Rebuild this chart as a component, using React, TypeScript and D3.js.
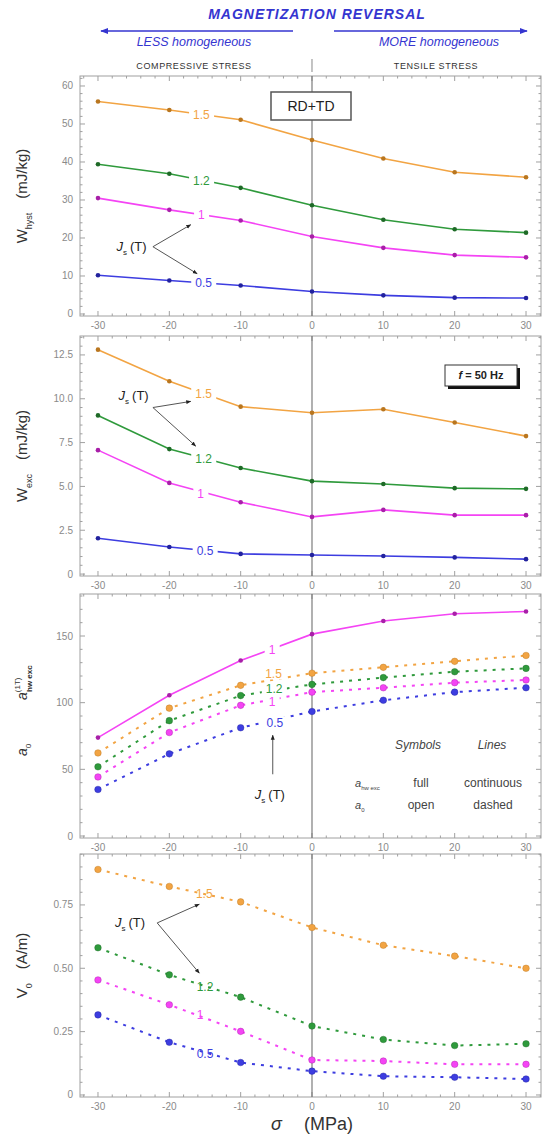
import { useRef, useEffect } from "react";
import * as d3 from "d3";

// stress values (MPa) and J_s levels (T)
const stress = [-30, -20, -10, 0, 10, 20, 30];
const levels = ["1.5", "1.2", "1", "0.5"];
const lineColors = ["#f2a443", "#2f9a3c", "#f444f4", "#3d3de0"];
const dotColors = ["#b9761f", "#1e6a27", "#a81fa8", "#22229e"];

// W_hyst (mJ/kg)
const wHyst15 = [55.9, 53.7, 51.1, 45.8, 40.9, 37.3, 36.0];
const wHyst12 = [39.4, 36.9, 33.2, 28.6, 24.8, 22.3, 21.4];
const wHyst10 = [30.5, 27.4, 24.6, 20.4, 17.4, 15.5, 14.9];
const wHyst05 = [10.2, 8.8, 7.5, 5.9, 4.9, 4.3, 4.2];

// W_exc (mJ/kg)
const wExc15 = [12.8, 11.0, 9.55, 9.2, 9.4, 8.65, 7.87];
const wExc12 = [9.05, 7.13, 6.05, 5.3, 5.14, 4.9, 4.86];
const wExc10 = [7.07, 5.2, 4.1, 3.26, 3.66, 3.36, 3.36];
const wExc05 = [2.04, 1.54, 1.15, 1.09, 1.03, 0.95, 0.85];

// a_hw,exc at 1 T (full symbols, continuous line)
const aHwExc10 = [73.8, 105.6, 131.6, 151.4, 161.3, 166.7, 168.4];
// a_0 (open symbols, dashed lines)
const a015 = [62.3, 95.9, 113, 122.1, 126.5, 131, 135.4];
const a012 = [51.9, 86.5, 105.3, 113.7, 118.8, 123.2, 125.7];
const a010 = [44.3, 77.6, 98, 107.9, 111.2, 115, 117];
const a005 = [34.9, 61.6, 81.2, 93.4, 101.8, 107.9, 111.2];

// V_0 (A/m)
const v015 = [0.89, 0.823, 0.762, 0.661, 0.591, 0.548, 0.5];
const v012 = [0.581, 0.474, 0.386, 0.272, 0.219, 0.195, 0.202];
const v010 = [0.454, 0.356, 0.251, 0.138, 0.134, 0.121, 0.121];
const v005 = [0.316, 0.208, 0.128, 0.094, 0.074, 0.07, 0.063];

// tick labels
const xTicks = [-30, -20, -10, 0, 10, 20, 30];
const wHystTicks = [0, 10, 20, 30, 40, 50, 60];
const wExcTicks = [0, 2.5, 5, 7.5, 10, 12.5];
const aTicks = [0, 50, 100, 150];
const vTicks = [0, 0.25, 0.5, 0.75];

// in-line level labels: [x, y] in data units, same order as levels
const wHystLabelPos = [[-15.5, 52.4], [-15.5, 35.1], [-15.5, 26.0], [-15.2, 8.2]];
const wExcLabelPos = [[-15.2, 10.3], [-15.2, 6.6], [-15.6, 4.6], [-15.0, 1.35]];
const aLabelPos = [[-5.4, 122], [-5.3, 110.4], [-5.6, 101], [-5.2, 85]];
const aHwLabelPos = [-5.6, 139.4];
const vLabelPos = [[-15.1, 0.793], [-15.0, 0.427], [-15.7, 0.316], [-15.0, 0.161]];

const FONT = "'Liberation Sans', Arial, sans-serif";

const App = () => {
  const svgRef = useRef(null);

  useEffect(() => {
    const svg = d3.select(svgRef.current);
    svg.selectAll("*").remove();

    const W = 543;
    const frameL = 80;
    const frameR = 541;
    const x = d3.scaleLinear().domain([-32.52, 32.1]).range([frameL, frameR]);

    const defs = svg.append("defs");
    const mkArrow = (id, color) =>
      defs
        .append("marker")
        .attr("id", id)
        .attr("viewBox", "0 0 10 10")
        .attr("refX", 9)
        .attr("refY", 5)
        .attr("markerWidth", 5)
        .attr("markerHeight", 5)
        .attr("orient", "auto-start-reverse")
        .append("path")
        .attr("d", "M0,1 L10,5 L0,9 z")
        .attr("fill", color);
    mkArrow("arrK", "#222");
    mkArrow("arrB", "#3535d0");

    // ---------- header ----------
    const blue = "#3535d0";
    svg.append("text")
      .attr("x", 317).attr("y", 19)
      .attr("text-anchor", "middle")
      .style("font-family", FONT).style("font-size", "14px")
      .style("font-weight", "bold").style("font-style", "italic")
      .style("letter-spacing", "1px")
      .attr("fill", blue)
      .text("MAGNETIZATION REVERSAL");

    svg.append("line")
      .attr("x1", 293).attr("x2", 101).attr("y1", 31).attr("y2", 31)
      .attr("stroke", blue).attr("stroke-width", 1.6)
      .attr("marker-end", "url(#arrB)");
    svg.append("line")
      .attr("x1", 334).attr("x2", 527).attr("y1", 31).attr("y2", 31)
      .attr("stroke", blue).attr("stroke-width", 1.6)
      .attr("marker-end", "url(#arrB)");

    [["LESS homogeneous", 194], ["MORE homogeneous", 439]].forEach(([t, cx]) => {
      svg.append("text")
        .attr("x", cx).attr("y", 46)
        .attr("text-anchor", "middle")
        .style("font-family", FONT).style("font-size", "12.5px")
        .style("font-style", "italic")
        .attr("fill", blue)
        .text(t);
    });

    [["COMPRESSIVE STRESS", 194], ["TENSILE STRESS", 436]].forEach(([t, cx]) => {
      svg.append("text")
        .attr("x", cx).attr("y", 69)
        .attr("text-anchor", "middle")
        .style("font-family", FONT).style("font-size", "9px")
        .style("letter-spacing", "0.6px")
        .attr("fill", "#333")
        .text(t);
    });
    svg.append("line")
      .attr("x1", x(0)).attr("x2", x(0)).attr("y1", 59).attr("y2", 72)
      .attr("stroke", "#888").attr("stroke-width", 1);

    // ---------- panels ----------
    const panels = [
      {
        top: 76, bottom: 316, domain: [-0.53, 62.63],
        ticks: wHystTicks, minor: 2, fmt: (d) => `${d}`,
        series: [wHyst15, wHyst12, wHyst10, wHyst05].map((v, i) => ({
          values: v, color: lineColors[i], dot: dotColors[i], dashed: false,
        })),
        labels: wHystLabelPos.map((p, i) => ({ x: p[0], y: p[1], text: levels[i], color: lineColors[i] })),
        js: { tx: -25.3, ty: 17.7, ox: -22.3, oy: 17.7, tips: [[-17.0, 23.5], [-16.1, 10.6]] },
      },
      {
        top: 336, bottom: 576, domain: [-0.11, 13.58],
        ticks: wExcTicks, minor: 0.5, fmt: (d) => (d === 0 ? "0" : d.toFixed(1)),
        series: [wExc15, wExc12, wExc10, wExc05].map((v, i) => ({
          values: v, color: lineColors[i], dot: dotColors[i], dashed: false,
        })),
        labels: wExcLabelPos.map((p, i) => ({ x: p[0], y: p[1], text: levels[i], color: lineColors[i] })),
        js: { tx: -25.0, ty: 10.2, ox: -22.3, oy: 9.5, tips: [[-17.0, 9.85], [-16.3, 7.3]] },
      },
      {
        top: 594, bottom: 838, domain: [-1.5, 181.5],
        ticks: aTicks, minor: 10, fmt: (d) => `${d}`,
        series: [
          { values: aHwExc10, color: lineColors[2], dot: dotColors[2], dashed: false },
          ...[a015, a012, a010, a005].map((v, i) => ({
            values: v, color: lineColors[i], dot: dotColors[i], dashed: true,
          })),
        ],
        labels: [
          { x: aHwLabelPos[0], y: aHwLabelPos[1], text: "1", color: lineColors[2] },
          ...aLabelPos.map((p, i) => ({ x: p[0], y: p[1], text: levels[i], color: lineColors[i] })),
        ],
        js: { tx: -5.9, ty: 31, vertical: true, ox: -5.5, oy: 46.3, tips: [[-5.5, 75.6]] },
      },
      {
        top: 854, bottom: 1097, domain: [-0.008, 0.951],
        ticks: vTicks, minor: 0.05, fmt: (d) => (d === 0 ? "0" : d.toFixed(2)),
        series: [v015, v012, v010, v005].map((v, i) => ({
          values: v, color: lineColors[i], dot: dotColors[i], dashed: true,
        })),
        labels: vLabelPos.map((p, i) => ({ x: p[0], y: p[1], text: levels[i], color: lineColors[i], bare: true })),
        js: { tx: -25.5, ty: 0.679, ox: -21.7, oy: 0.679, tips: [[-15.8, 0.753], [-15.8, 0.481]] },
      },
    ];

    const frameColor = "#a0a0a0";

    panels.forEach((p, pi) => {
      const y = d3.scaleLinear().domain(p.domain).range([p.bottom, p.top]);
      const g = svg.append("g");

      // frame
      g.append("rect")
        .attr("x", frameL).attr("y", p.top)
        .attr("width", frameR - frameL).attr("height", p.bottom - p.top)
        .attr("fill", "none").attr("stroke", frameColor).attr("stroke-width", 1);

      // x ticks (top & bottom, inward)
      const xMinor = d3.range(-32, 33, 2).filter((d) => d % 10 !== 0);
      [...xTicks.map((d) => [d, 5]), ...xMinor.map((d) => [d, 2.5])].forEach(([d, len]) => {
        const xx = x(d);
        g.append("line").attr("x1", xx).attr("x2", xx).attr("y1", p.bottom).attr("y2", p.bottom - len)
          .attr("stroke", frameColor);
        g.append("line").attr("x1", xx).attr("x2", xx).attr("y1", p.top).attr("y2", p.top + len)
          .attr("stroke", frameColor);
      });
      xTicks.forEach((d) => {
        g.append("text")
          .attr("x", x(d)).attr("y", p.bottom + 13)
          .attr("text-anchor", "middle")
          .style("font-family", FONT).style("font-size", "10px")
          .attr("fill", "#8a8a8a")
          .text(d);
      });

      // y ticks (left & right, inward)
      const maxV = p.domain[1];
      const yMinor = d3.range(0, maxV, p.minor)
        .filter((d) => !p.ticks.some((t) => Math.abs(t - d) < p.minor / 10));
      [...p.ticks.map((d) => [d, 5]), ...yMinor.map((d) => [d, 2.5])].forEach(([d, len]) => {
        const yy = y(d);
        g.append("line").attr("x1", frameL).attr("x2", frameL + len).attr("y1", yy).attr("y2", yy)
          .attr("stroke", frameColor);
        g.append("line").attr("x1", frameR).attr("x2", frameR - len).attr("y1", yy).attr("y2", yy)
          .attr("stroke", frameColor);
      });
      p.ticks.forEach((d) => {
        g.append("text")
          .attr("x", frameL - 7).attr("y", y(d))
          .attr("dy", "0.35em")
          .attr("text-anchor", "end")
          .style("font-family", FONT).style("font-size", "10px")
          .attr("fill", "#8a8a8a")
          .text(p.fmt(d));
      });

      // zero-stress line
      g.append("line")
        .attr("x1", x(0)).attr("x2", x(0)).attr("y1", p.top).attr("y2", p.bottom)
        .attr("stroke", "#707070").attr("stroke-width", 1.1);

      // series
      const line = d3.line()
        .x((d, i) => x(stress[i]))
        .y((d) => y(d));
      p.series.forEach((s) => {
        g.append("path")
          .datum(s.values)
          .attr("fill", "none")
          .attr("stroke", s.color)
          .attr("stroke-width", s.dashed ? 2 : 1.6)
          .attr("stroke-dasharray", s.dashed ? "3,6" : null)
          .attr("d", line);
      });
      p.series.forEach((s) => {
        g.selectAll(null)
          .data(s.values)
          .enter()
          .append("circle")
          .attr("cx", (d, i) => x(stress[i]))
          .attr("cy", (d) => y(d))
          .attr("r", s.dashed ? 3.3 : 2.3)
          .attr("fill", s.dashed ? s.color : s.dot)
          .attr("stroke", s.dashed ? s.dot : "none")
          .attr("stroke-opacity", 0.5)
          .attr("stroke-width", 0.8);
      });

      // level labels
      p.labels.forEach((l) => {
        const lg = g.append("g");
        const t = lg.append("text")
          .attr("x", x(l.x)).attr("y", y(l.y))
          .attr("dy", "0.35em")
          .attr("text-anchor", "middle")
          .style("font-family", FONT).style("font-size", "12px")
          .attr("fill", l.color)
          .text(l.text);
        if (!l.bare) {
          const bb = t.node().getBBox();
          lg.insert("rect", "text")
            .attr("x", bb.x - 4).attr("y", bb.y + 1)
            .attr("width", bb.width + 8).attr("height", bb.height - 2)
            .attr("fill", "#fff");
        }
      });

      // J_s (T) annotation
      const js = p.js;
      const jt = g.append("text")
        .attr("x", x(js.tx)).attr("y", y(js.ty))
        .attr("dy", "0.35em")
        .attr("text-anchor", "middle")
        .style("font-family", FONT).style("font-size", "13px")
        .attr("fill", "#222");
      jt.append("tspan").style("font-style", "italic").text("J");
      jt.append("tspan").attr("dy", 4).style("font-size", "8px").text("s");
      jt.append("tspan").attr("dy", -4).attr("dx", 3).text("(T)");
      js.tips.forEach(([tx, ty]) => {
        g.append("line")
          .attr("x1", x(js.ox)).attr("y1", y(js.oy))
          .attr("x2", x(tx)).attr("y2", y(ty))
          .attr("stroke", "#555").attr("stroke-width", 1)
          .attr("marker-end", "url(#arrK)");
      });

      // y axis titles
      const cy = (p.top + p.bottom) / 2;
      const yTitle = (ty) => {
        const tg = g.append("g").attr("transform", `translate(27,${ty}) rotate(-90)`);
        return tg;
      };
      if (pi === 0 || pi === 1 || pi === 3) {
        const tg = yTitle(pi === 3 ? cy - 10 : cy);
        const t = tg.append("text")
          .attr("text-anchor", "middle")
          .style("font-family", FONT).style("font-size", "15px")
          .attr("fill", "#333");
        const main = pi === 3 ? "V" : "W";
        const sub = pi === 0 ? "hyst" : pi === 1 ? "exc" : "0";
        const unit = pi === 3 ? "(A/m)" : "(mJ/kg)";
        t.append("tspan").text(main);
        t.append("tspan").attr("dy", 5).style("font-size", "9px").text(sub);
        t.append("tspan").attr("dy", -5).attr("dx", 14).text(unit);
      } else {
        // a_hw,exc^(1T) and a_0
        const t1 = yTitle(700).append("text")
          .style("font-family", FONT).style("font-size", "14px").attr("fill", "#333");
        t1.append("tspan").style("font-style", "italic").text("a");
        t1.append("tspan").attr("dy", -7).style("font-size", "8px").text("(1T)");
        const t1b = yTitle(700).append("text")
          .attr("x", 8).attr("y", 5)
          .style("font-family", FONT).style("font-size", "8px")
          .style("font-weight", "bold").attr("fill", "#333")
          .text("hw exc");
        const t2 = yTitle(756).append("text")
          .style("font-family", FONT).style("font-size", "14px").attr("fill", "#333");
        t2.append("tspan").style("font-style", "italic").text("a");
        t2.append("tspan").attr("dy", 4).style("font-size", "8px").text("0");
        void t1b;
      }
    });

    // RD+TD box (panel 1)
    const b1 = svg.append("g");
    b1.append("rect")
      .attr("x", x(0) - 41).attr("y", 92).attr("width", 80).attr("height", 28)
      .attr("fill", "#fff").attr("stroke", "#555").attr("stroke-width", 1.5);
    b1.append("text")
      .attr("x", x(0) - 1).attr("y", 106).attr("dy", "0.35em")
      .attr("text-anchor", "middle")
      .style("font-family", FONT).style("font-size", "14px")
      .attr("fill", "#222")
      .text("RD+TD");

    // f = 50 Hz box (panel 2)
    const b2 = svg.append("g");
    b2.append("rect")
      .attr("x", 448).attr("y", 368).attr("width", 72).attr("height", 21)
      .attr("fill", "#111");
    b2.append("rect")
      .attr("x", 445).attr("y", 365).attr("width", 72).attr("height", 21)
      .attr("fill", "#fff").attr("stroke", "#333").attr("stroke-width", 1);
    const ft = b2.append("text")
      .attr("x", 481).attr("y", 375.5).attr("dy", "0.35em")
      .attr("text-anchor", "middle")
      .style("font-family", FONT).style("font-size", "11px").style("font-weight", "bold")
      .attr("fill", "#222");
    ft.append("tspan").style("font-style", "italic").text("f");
    ft.append("tspan").text(" = 50 Hz");

    // legend (panel 3)
    const lt = (tx, ty, txt, italic) =>
      svg.append("text")
        .attr("x", tx).attr("y", ty).attr("dy", "0.35em")
        .attr("text-anchor", "middle")
        .style("font-family", FONT).style("font-size", "12px")
        .style("font-style", italic ? "italic" : "normal")
        .attr("fill", "#444")
        .text(txt);
    lt(418, 745, "Symbols", true);
    lt(492, 745, "Lines", true);
    lt(421, 783, "full");
    lt(493, 783, "continuous");
    lt(421, 805, "open");
    lt(493, 805, "dashed");
    const s1 = svg.append("text").attr("x", 355).attr("y", 783).attr("dy", "0.35em")
      .style("font-family", FONT).style("font-size", "11px").attr("fill", "#444");
    s1.append("tspan").style("font-style", "italic").text("a");
    s1.append("tspan").attr("dy", 3).style("font-size", "6px").text("hw exc");
    const s2 = svg.append("text").attr("x", 355).attr("y", 805).attr("dy", "0.35em")
      .style("font-family", FONT).style("font-size", "11px").attr("fill", "#444");
    s2.append("tspan").style("font-style", "italic").text("a");
    s2.append("tspan").attr("dy", 3).style("font-size", "6px").text("0");

    // x axis title
    const xt = svg.append("text")
      .attr("x", 312).attr("y", 1130)
      .attr("text-anchor", "middle")
      .style("font-family", FONT).style("font-size", "18px")
      .attr("fill", "#333");
    xt.append("tspan").style("font-style", "italic").text("σ");
    xt.append("tspan").attr("dx", 22).text("(MPa)");

    void W;
  }, []);

  return (
    <svg
      ref={svgRef}
      width={543}
      height={1140}
      style={{ position: "absolute", left: 0, top: 0, background: "#fff" }}
    />
  );
};

export default App;
